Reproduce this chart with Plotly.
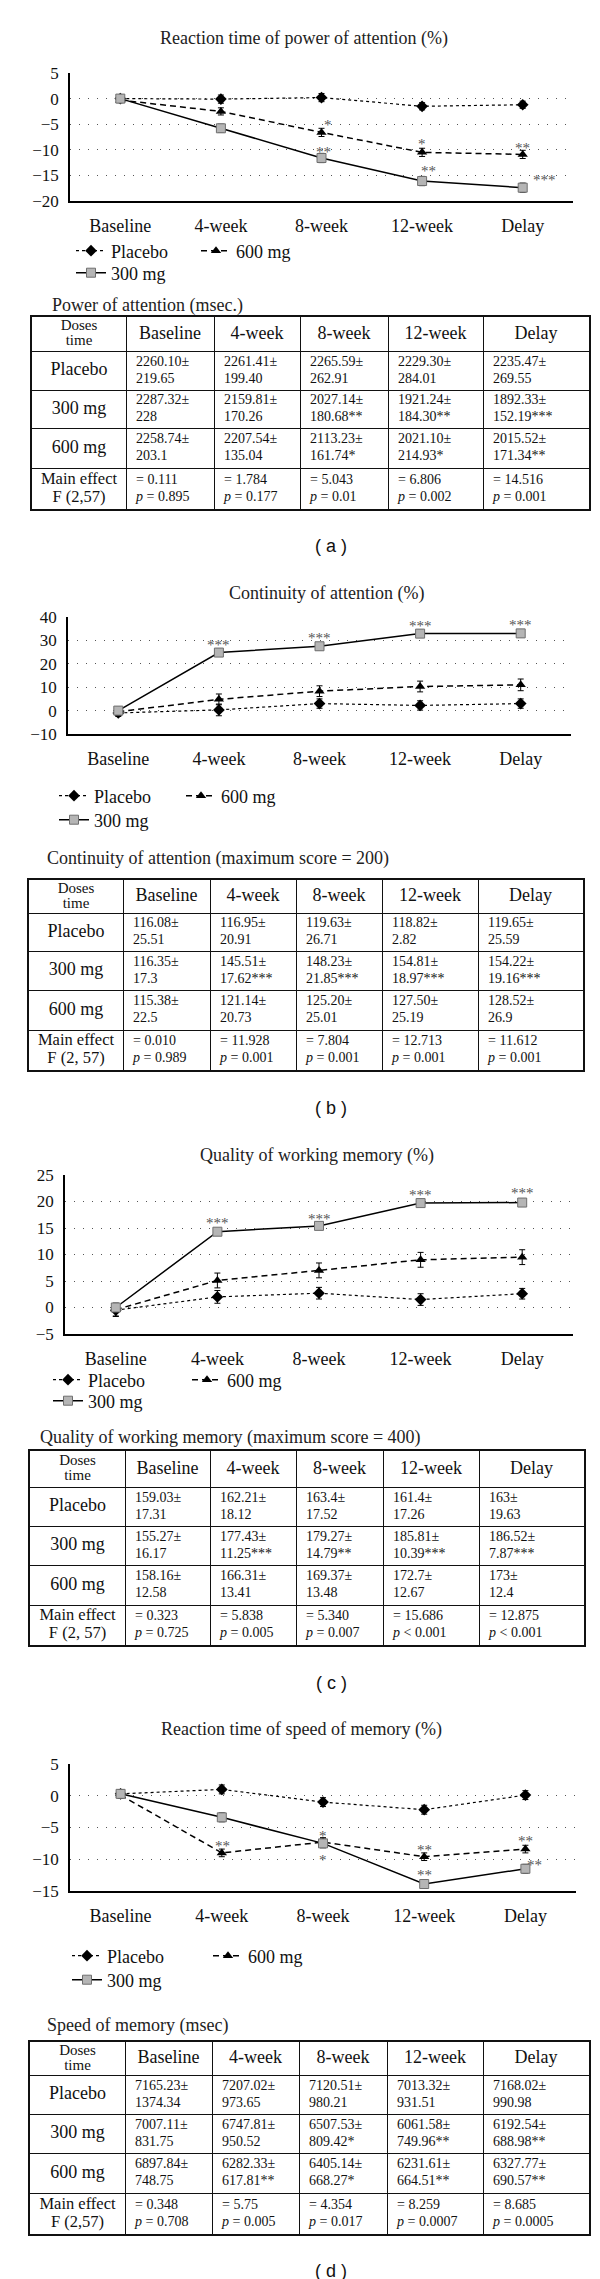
import plotly.graph_objects as go

W, H = 600, 2279
SERIF = "Liberation Serif"
SANS = "Liberation Sans"

weeks = ["Baseline", "4-week", "8-week", "12-week", "Delay"]
series_names = ["Placebo", "600 mg", "300 mg"]
table_rows = ["Placebo", "300 mg", "600 mg"]

# ---- (a) power of attention
a_title = "Reaction time of power of attention (%)"
a_placebo = [0.0, -0.1, 0.2, -1.5, -1.2]
a_600 = [-0.3, -2.5, -6.6, -10.5, -10.9]
a_300 = [0.0, -5.8, -11.6, -16.1, -17.4]
a_placebo_err = [0.6, 0.8, 0.8, 0.7, 0.7]
a_600_err = [0.5, 0.7, 0.8, 0.8, 0.8]
a_300_err = [0.6, 0.8, 0.9, 0.9, 0.9]
a_stars = [("600 mg", "8-week", "*"), ("600 mg", "12-week", "*"), ("600 mg", "Delay", "**"),
           ("300 mg", "8-week", "**"), ("300 mg", "12-week", "**"), ("300 mg", "Delay", "***")]
a_tab_title = "Power of attention (msec.)"
a_tab_placebo = [("2260.10±", "219.65"), ("2261.41±", "199.40"), ("2265.59±", "262.91"),
                 ("2229.30±", "284.01"), ("2235.47±", "269.55")]
a_tab_300 = [("2287.32±", "228"), ("2159.81±", "170.26"), ("2027.14±", "180.68**"),
             ("1921.24±", "184.30**"), ("1892.33±", "152.19***")]
a_tab_600 = [("2258.74±", "203.1"), ("2207.54±", "135.04"), ("2113.23±", "161.74*"),
             ("2021.10±", "214.93*"), ("2015.52±", "171.34**")]
a_F = ["0.111", "1.784", "5.043", "6.806", "14.516"]
a_p = ["= 0.895", "= 0.177", "= 0.01", "= 0.002", "= 0.001"]
a_F_label = "F (2,57)"

# ---- (b) continuity of attention
b_title = "Continuity of attention (%)"
b_placebo = [-1.0, 0.3, 3.0, 2.2, 3.0]
b_600 = [-0.5, 4.8, 8.3, 10.3, 11.0]
b_300 = [0.0, 24.8, 27.5, 32.9, 33.0]
b_placebo_err = [1.5, 2.5, 2.0, 2.0, 2.0]
b_600_err = [1.5, 2.3, 2.3, 2.3, 2.5]
b_300_err = [1.5, 1.5, 1.5, 1.5, 1.5]
b_stars = [("300 mg", "4-week", "***"), ("300 mg", "8-week", "***"),
           ("300 mg", "12-week", "***"), ("300 mg", "Delay", "***")]
b_tab_title = "Continuity of attention (maximum score = 200)"
b_tab_placebo = [("116.08±", "25.51"), ("116.95±", "20.91"), ("119.63±", "26.71"),
                 ("118.82±", "2.82"), ("119.65±", "25.59")]
b_tab_300 = [("116.35±", "17.3"), ("145.51±", "17.62***"), ("148.23±", "21.85***"),
             ("154.81±", "18.97***"), ("154.22±", "19.16***")]
b_tab_600 = [("115.38±", "22.5"), ("121.14±", "20.73"), ("125.20±", "25.01"),
             ("127.50±", "25.19"), ("128.52±", "26.9")]
b_F = ["0.010", "11.928", "7.804", "12.713", "11.612"]
b_p = ["= 0.989", "= 0.001", "= 0.001", "= 0.001", "= 0.001"]
b_F_label = "F (2, 57)"

# ---- (c) quality of working memory
c_title = "Quality of working memory (%)"
c_placebo = [-0.5, 2.0, 2.7, 1.5, 2.6]
c_600 = [-0.4, 5.1, 7.0, 9.0, 9.5]
c_300 = [0.0, 14.3, 15.4, 19.7, 19.8]
c_placebo_err = [1.2, 1.2, 1.1, 1.1, 1.0]
c_600_err = [1.2, 1.4, 1.4, 1.4, 1.4]
c_300_err = [0.8, 0.6, 0.6, 0.6, 0.6]
c_stars = [("300 mg", "4-week", "***"), ("300 mg", "8-week", "***"),
           ("300 mg", "12-week", "***"), ("300 mg", "Delay", "***")]
c_tab_title = "Quality of working memory (maximum score = 400)"
c_tab_placebo = [("159.03±", "17.31"), ("162.21±", "18.12"), ("163.4±", "17.52"),
                 ("161.4±", "17.26"), ("163±", "19.63")]
c_tab_300 = [("155.27±", "16.17"), ("177.43±", "11.25***"), ("179.27±", "14.79**"),
             ("185.81±", "10.39***"), ("186.52±", "7.87***")]
c_tab_600 = [("158.16±", "12.58"), ("166.31±", "13.41"), ("169.37±", "13.48"),
             ("172.7±", "12.67"), ("173±", "12.4")]
c_F = ["0.323", "5.838", "5.340", "15.686", "12.875"]
c_p = ["= 0.725", "= 0.005", "= 0.007", "< 0.001", "< 0.001"]
c_F_label = "F (2, 57)"

# ---- (d) speed of memory
d_title = "Reaction time of speed of memory (%)"
d_placebo = [0.3, 1.0, -1.0, -2.2, 0.1]
d_600 = [0.1, -9.0, -7.3, -9.6, -8.4]
d_300 = [0.3, -3.4, -7.5, -13.9, -11.5]
d_placebo_err = [0.6, 0.7, 0.7, 0.7, 0.7]
d_600_err = [0.5, 0.6, 0.7, 0.6, 0.6]
d_300_err = [0.6, 0.7, 0.7, 0.7, 0.7]
d_stars = [("600 mg", "4-week", "**"), ("600 mg", "8-week", "*"), ("300 mg", "8-week", "*"),
           ("600 mg", "12-week", "**"), ("300 mg", "12-week", "**"),
           ("600 mg", "Delay", "**"), ("300 mg", "Delay", "**")]
d_tab_title = "Speed of memory (msec)"
d_tab_placebo = [("7165.23±", "1374.34"), ("7207.02±", "973.65"), ("7120.51±", "980.21"),
                 ("7013.32±", "931.51"), ("7168.02±", "990.98")]
d_tab_300 = [("7007.11±", "831.75"), ("6747.81±", "950.52"), ("6507.53±", "809.42*"),
             ("6061.58±", "749.96**"), ("6192.54±", "688.98**")]
d_tab_600 = [("6897.84±", "748.75"), ("6282.33±", "617.81**"), ("6405.14±", "668.27*"),
             ("6231.61±", "664.51**"), ("6327.77±", "690.57**")]
d_F = ["0.348", "5.75", "4.354", "8.259", "8.685"]
d_p = ["= 0.708", "= 0.005", "= 0.017", "= 0.0007", "= 0.0005"]
d_F_label = "F (2,57)"

# layout geometry in page pixels (kept apart from the data)
GEO = [
    dict(label="( a )", title_xy=(296, 31), plot_x=(62, 565), plot_y=(65, 193), yr=(-20, 5), dt=5,
         leg_y=(243, 265), leg_x=(69, 194), tt_xy=(42, 297),
         rows=[309, 343, 382, 420, 460, 501], cols=[24, 118, 206, 292, 380, 475, 581], lab_y=538,
         shifts=[(6, 7), (0, 8), (0, 6), (2, 6), (6, 10), (22, 8)]),
    dict(label="( b )", title_xy=(318, 585), plot_x=(60, 563), plot_y=(609, 726), yr=(-10, 40), dt=10,
         leg_y=(788, 812), leg_x=(52, 179), tt_xy=(37, 850),
         rows=[872, 905, 943, 982, 1022, 1062], cols=[21, 115, 202, 288, 374, 470, 575], lab_y=1100,
         shifts=[(0, 8), (0, 8), (0, 8), (0, 8)]),
    dict(label="( c )", title_xy=(309, 1147), plot_x=(57, 565), plot_y=(1167, 1326), yr=(-5, 25), dt=5,
         leg_y=(1372, 1393), leg_x=(46, 185), tt_xy=(30, 1429),
         rows=[1443, 1479, 1518, 1557, 1597, 1637], cols=[22, 117, 202, 288, 375, 471, 576], lab_y=1675,
         shifts=[(0, 9), (0, 7), (0, 8), (0, 10)]),
    dict(label="( d )", title_xy=(293, 1721), plot_x=(62, 568), plot_y=(1756, 1883), yr=(-15, 5), dt=5,
         leg_y=(1948, 1972), leg_x=(65, 206), tt_xy=(37, 2017),
         rows=[2034, 2067, 2106, 2145, 2185, 2226], cols=[22, 117, 204, 291, 379, 475, 581], lab_y=2263,
         shifts=[(1, 7), (0, 6), (0, -17), (0, 7), (0, 9), (0, 8), (9, 4)]),
]

panels = [
    (a_title, [a_placebo, a_600, a_300], [a_placebo_err, a_600_err, a_300_err], a_stars,
     a_tab_title, [a_tab_placebo, a_tab_300, a_tab_600], a_F, a_p, a_F_label),
    (b_title, [b_placebo, b_600, b_300], [b_placebo_err, b_600_err, b_300_err], b_stars,
     b_tab_title, [b_tab_placebo, b_tab_300, b_tab_600], b_F, b_p, b_F_label),
    (c_title, [c_placebo, c_600, c_300], [c_placebo_err, c_600_err, c_300_err], c_stars,
     c_tab_title, [c_tab_placebo, c_tab_300, c_tab_600], c_F, c_p, c_F_label),
    (d_title, [d_placebo, d_600, d_300], [d_placebo_err, d_600_err, d_300_err], d_stars,
     d_tab_title, [d_tab_placebo, d_tab_300, d_tab_600], d_F, d_p, d_F_label),
]

STYLE = {
    "Placebo": dict(line=dict(color="black", width=1.2, dash="dot"),
                    marker=dict(symbol="diamond", size=9, color="black")),
    "600 mg": dict(line=dict(color="black", width=1.5, dash="6px,4px"),
                   marker=dict(symbol="triangle-up", size=9, color="black")),
    "300 mg": dict(line=dict(color="black", width=1.5),
                   marker=dict(symbol="square", size=9, color="#b5b5b5",
                               line=dict(color="#6e6e6e", width=1))),
}


def py(px):
    return 1 - px / H


def sid(n):
    return "" if n == 1 else str(n)


fig = go.Figure()
annotations = []
layout_extra = {}

for i, (title, series, errs, stars, tab_title, tab_rows, F, p, F_label) in enumerate(panels):
    g = GEO[i]
    n = i + 1
    xa, ya = "x" + sid(n), "y" + sid(n)

    # chart traces
    for k, name in enumerate(series_names):
        leg = "legend" + sid(i * 3 + k + 1)
        fig.add_trace(go.Scatter(
            x=weeks, y=series[k], name=name, mode="lines+markers", legend=leg,
            error_y=dict(type="data", array=errs[k], color="black", thickness=1, width=3),
            xaxis=xa, yaxis=ya, cliponaxis=False, hoverinfo="skip", **STYLE[name]))
        row = 1 if name == "300 mg" else 0
        lx = g["leg_x"][1] if name == "600 mg" else g["leg_x"][0]
        layout_extra[leg] = dict(x=(lx - 6) / W, y=py(g["leg_y"][row]), xanchor="left", yanchor="middle",
                                 bgcolor="rgba(0,0,0,0)", itemwidth=30,
                                 font=dict(family=SERIF, size=18, color="#111"))

    layout_extra["xaxis" + sid(n)] = dict(
        domain=[g["plot_x"][0] / W, g["plot_x"][1] / W], anchor=ya, type="category",
        categoryorder="array", categoryarray=weeks, range=[-0.5, 4.5],
        showline=True, linecolor="black", linewidth=1.5, ticks="", showgrid=False, zeroline=False,
        tickfont=dict(family=SERIF, size=18, color="#111"), ticklabelstandoff=8)
    layout_extra["yaxis" + sid(n)] = dict(
        domain=[py(g["plot_y"][1]), py(g["plot_y"][0])], anchor=xa, range=list(g["yr"]),
        tick0=g["yr"][0], dtick=g["dt"], showline=True, linecolor="black", linewidth=1.5,
        showgrid=True, gridcolor="#555", gridwidth=1.3, griddash="1px,8px", zeroline=False, ticks="",
        tickfont=dict(family=SERIF, size=17, color="#111"), ticklabelstandoff=6)

    # significance stars
    for (name, wk, txt), (dx, dy) in zip(stars, g["shifts"]):
        yv = series[series_names.index(name)][weeks.index(wk)]
        annotations.append(dict(x=wk, y=yv, xref=xa, yref=ya, text=txt, showarrow=False,
                                xshift=dx, yshift=dy, font=dict(family=SERIF, size=15, color="#555")))

    # titles and panel label
    annotations.append(dict(x=g["title_xy"][0] / W, y=py(g["title_xy"][1]), xref="paper", yref="paper",
                            text=title, showarrow=False, xanchor="center", yanchor="middle",
                            font=dict(family=SERIF, size=18, color="#222")))
    annotations.append(dict(x=g["tt_xy"][0] / W, y=py(g["tt_xy"][1]), xref="paper", yref="paper",
                            text=tab_title, showarrow=False, xanchor="left", yanchor="middle",
                            font=dict(family=SERIF, size=18, color="#222")))
    annotations.append(dict(x=323 / W, y=py(g["lab_y"]), xref="paper", yref="paper",
                            text=g["label"], showarrow=False, xanchor="center", yanchor="middle",
                            font=dict(family=SANS, size=18, color="#111")))

    # table on its own axes: grid lines at the cell borders
    m = n + 4
    txa, tya = "x" + sid(m), "y" + sid(m)
    rows, cols = g["rows"], g["cols"]
    layout_extra["xaxis" + sid(m)] = dict(
        domain=[cols[0] / W, cols[-1] / W], anchor=tya, range=[cols[0], cols[-1]],
        tickmode="array", tickvals=cols, showticklabels=False, ticks="", zeroline=False,
        showgrid=True, gridcolor="#111", gridwidth=1.4,
        showline=True, mirror=True, linecolor="#111", linewidth=1.8)
    layout_extra["yaxis" + sid(m)] = dict(
        domain=[py(rows[-1]), py(rows[0])], anchor=txa, range=[rows[-1], rows[0]],
        tickmode="array", tickvals=rows, showticklabels=False, ticks="", zeroline=False,
        showgrid=True, gridcolor="#111", gridwidth=1.4,
        showline=True, mirror=True, linecolor="#111", linewidth=1.8)

    cx = [(cols[j] + cols[j + 1]) / 2 for j in range(6)]
    cy = [(rows[r] + rows[r + 1]) / 2 for r in range(5)]

    # centered text: header and row labels
    xs, ys, ts, ss = [], [], [], []
    xs += [cx[0], cx[0]]; ys += [cy[0] - 7.5, cy[0] + 7.5]; ts += ["Doses", "time"]; ss += [15, 15]
    for j, wk in enumerate(weeks):
        xs.append(cx[j + 1]); ys.append(cy[0]); ts.append(wk); ss.append(18)
    for r, lab in enumerate(table_rows):
        xs.append(cx[0]); ys.append(cy[r + 1]); ts.append(lab); ss.append(18)
    xs += [cx[0], cx[0]]; ys += [cy[4] - 9, cy[4] + 9]; ts += ["Main effect", F_label]; ss += [16.5, 16.5]
    fig.add_trace(go.Scatter(x=xs, y=ys, text=ts, mode="text", textposition="middle center",
                             textfont=dict(family=SERIF, size=ss, color="#111"),
                             xaxis=txa, yaxis=tya, showlegend=False, hoverinfo="skip", cliponaxis=False))

    # left-aligned value cells
    xs, ys, ts = [], [], []
    for r, cells in enumerate(tab_rows):
        for j, (top, bot) in enumerate(cells):
            xs += [cols[j + 1] + 10, cols[j + 1] + 10]
            ys += [cy[r + 1] - 8.5, cy[r + 1] + 8.5]
            ts += [top, bot]
    for j in range(5):
        xs += [cols[j + 1] + 10, cols[j + 1] + 10]
        ys += [cy[4] - 8.5, cy[4] + 8.5]
        ts += ["= " + F[j], "<i>p</i> " + p[j].replace("<", "&lt;")]
    fig.add_trace(go.Scatter(x=xs, y=ys, text=ts, mode="text", textposition="middle right",
                             textfont=dict(family=SERIF, size=14, color="#111"),
                             xaxis=txa, yaxis=tya, showlegend=False, hoverinfo="skip", cliponaxis=False))

fig.update_layout(
    width=W, height=H, margin=dict(l=0, r=0, t=0, b=0),
    template="none", paper_bgcolor="white", plot_bgcolor="white",
    font=dict(family=SERIF, color="#111"),
    annotations=annotations, showlegend=True,
    **layout_extra)

fig.write_html("out.html")
